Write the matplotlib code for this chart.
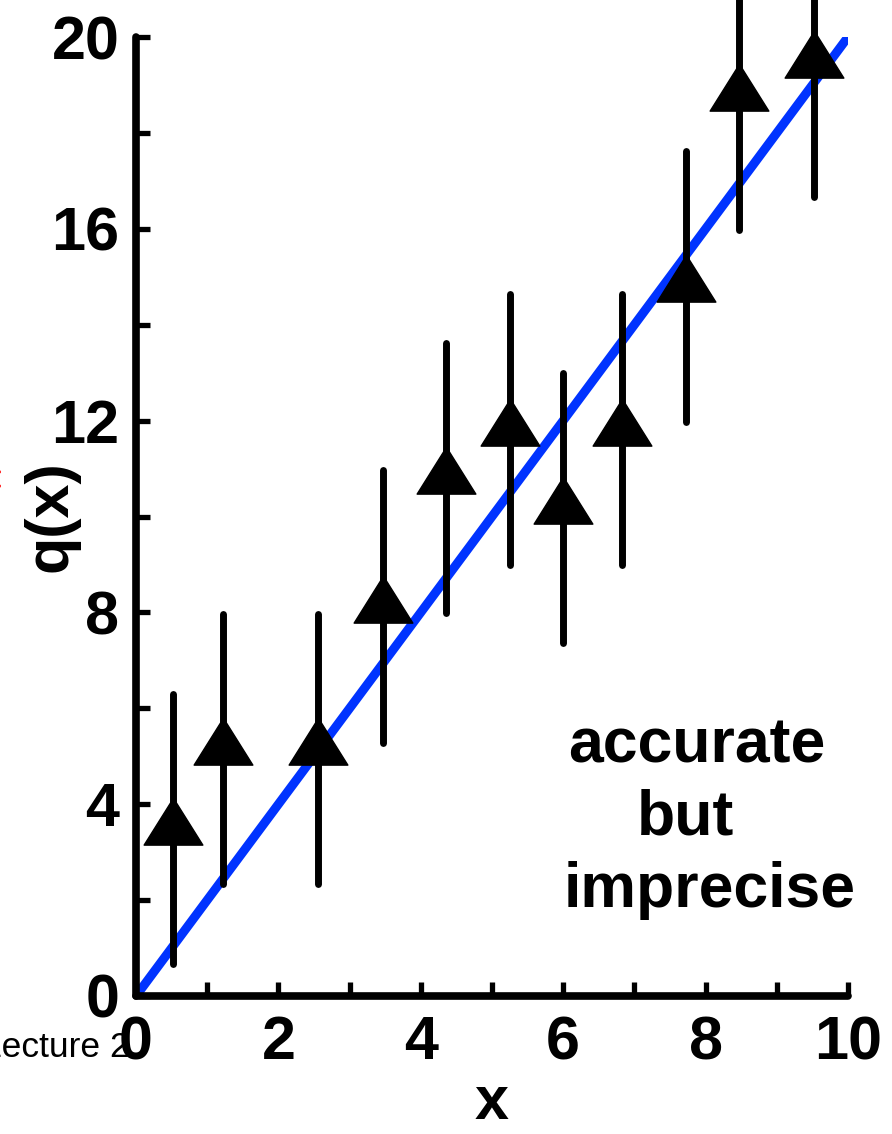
import matplotlib
matplotlib.use("Agg")
import matplotlib.pyplot as plt
from matplotlib.path import Path

# measured values (centre of each error bar)
x_vals = [0.52, 1.22, 2.56, 3.47, 4.35, 5.25, 6.0, 6.83, 7.72, 8.47, 9.52]
q_vals = [3.48, 5.15, 5.15, 8.12, 10.8, 11.81, 10.18, 11.81, 14.8, 18.8, 19.48]
q_err = [2.82, 2.82, 2.82, 2.85, 2.82, 2.82, 2.82, 2.82, 2.82, 2.82, 2.82]

line_x = [0, 10]
line_q = [0, 20]

x_ticks = [0, 2, 4, 6, 8, 10]
y_ticks = [0, 4, 8, 12, 16, 20]

note_lines = ["accurate", "but", "imprecise"]

plt.rcParams["font.family"] = ["Liberation Sans", "DejaVu Sans"]

fig = plt.figure(figsize=(8.92, 11.34), dpi=100)
ax = fig.add_axes([136 / 892, 138 / 1134, 712 / 892, 959 / 1134])

ax.plot(line_x, line_q, color="#0033ff", lw=6.5, solid_capstyle="round", zorder=2)

# triangle centred on its centroid
tri = Path([(0, 1), (-0.94, -0.5), (0.94, -0.5), (0, 1)],
           [Path.MOVETO, Path.LINETO, Path.LINETO, Path.CLOSEPOLY])
eb = ax.errorbar(x_vals, q_vals, yerr=q_err, fmt="none", ecolor="black",
                 elinewidth=5, capsize=0, zorder=3)
for coll in eb[2]:
    coll.set_capstyle("round")
    coll.set_clip_on(False)
ax.plot(x_vals, q_vals, ls="none", marker=tri, ms=45, color="black",
        mec="black", zorder=4, clip_on=False)

ax.set_xlim(0, 10)
ax.set_ylim(0, 20)
ax.set_xticks(x_ticks)
ax.set_xticks(range(0, 11), minor=True)
ax.set_yticks(y_ticks)
ax.set_yticks(range(0, 21, 2), minor=True)

for s in ["top", "right"]:
    ax.spines[s].set_visible(False)
for s in ["left", "bottom"]:
    ax.spines[s].set_linewidth(5.5)
    ax.spines[s].set_capstyle("round")

ax.tick_params(which="both", direction="in", length=10, width=3.8, color="black")
ax.tick_params(axis="x", which="major", pad=14)
ax.tick_params(axis="y", which="major", pad=12)
for lab in ax.get_xticklabels() + ax.get_yticklabels():
    lab.set_fontsize(44)
    lab.set_fontweight("bold")

ax.set_xlabel("x", fontsize=44, fontweight="bold", labelpad=2)
ax.set_ylabel("q(x)", fontsize=44, fontweight="bold")
ax.yaxis.set_label_coords(-0.08, 0.5)

ax.text(7.88, 4.88, note_lines[0], fontsize=45, fontweight="bold", ha="center", va="baseline")
ax.text(7.72, 3.36, note_lines[1], fontsize=45, fontweight="bold", ha="center", va="baseline")
ax.text(8.06, 1.86, note_lines[2], fontsize=45, fontweight="bold", ha="center", va="baseline")

fig.text(130 / 892, (1134 - 1057) / 1134, "Lecture 2", fontsize=25.5, ha="right", va="baseline")
fig.text(2 / 892, 1 - 482 / 1134, "<", fontsize=24, color="red", ha="right", va="center")

fig.savefig("out.png", dpi=100)
